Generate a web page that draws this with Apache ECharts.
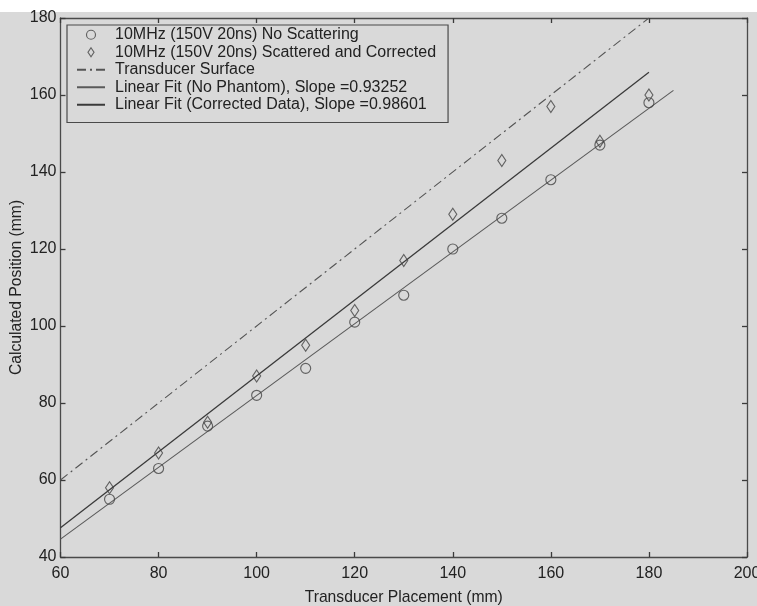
<!DOCTYPE html>
<html>
<head>
<meta charset="utf-8">
<script src="https://cdn.jsdelivr.net/npm/echarts@6/dist/echarts.min.js"></script>
<style>
  html, body { margin: 0; padding: 0; background: #d9d9d9; }
  #chart { width: 757px; height: 606px; }
</style>
</head>
<body>
<div id="chart"></div>
<script>
// Transducer placement (mm) for each measurement
const placement = [70, 80, 90, 100, 110, 120, 130, 140, 150, 160, 170, 180];
// Calculated position (mm), no scattering medium
const noScattering = [55, 63, 74, 82, 89, 101, 108, 120, 128, 138, 147, 158];
// Calculated position (mm), scattered and corrected
const scatteredCorrected = [58, 67, 75, 87, 95, 104, 117, 129, 143, 157, 148, 160];

// Transducer surface reference line (y = x)
const surfaceX = [60, 180];
const surfaceY = [60, 180];

// Linear fits
const noPhantomSlope = 0.93252;
const noPhantomIntercept = -11.32;
const noPhantomRange = [60, 185];
const correctedSlope = 0.98601;
const correctedIntercept = -11.58;
const correctedRange = [60, 180];

// Axis ticks
const xTicks = [60, 80, 100, 120, 140, 160, 180, 200];
const yTicks = [40, 60, 80, 100, 120, 140, 160, 180];

const legendNames = [
  '10MHz (150V 20ns) No Scattering',
  '10MHz (150V 20ns) Scattered and Corrected',
  'Transducer Surface',
  'Linear Fit (No Phantom), Slope =0.93252',
  'Linear Fit (Corrected Data), Slope =0.98601'
];

const pairs = (xs, ys) => xs.map((x, i) => [x, ys[i]]);
const fitLine = (range, m, b) => range.map(x => [x, m * x + b]);

const FONT = '"Liberation Sans", Arial, sans-serif';
const MARK = '#444';
const CLEAR = 'rgba(0,0,0,0)';
const hollow = { color: CLEAR, borderColor: MARK, borderWidth: 1.15 };

const axisCommon = {
  type: 'value',
  interval: 20,
  axisLine: { show: true, onZero: false, lineStyle: { color: '#4a4a4a', width: 1.3 } },
  axisTick: { show: true, inside: true, length: 5, lineStyle: { color: '#3a3a3a', width: 1.3 } },
  splitLine: { show: false },
  axisLabel: { color: '#222', fontFamily: FONT, fontSize: 16 }
};

// Legend swatches: hollow markers for the scatter sets, bare strokes for the lines
const hiddenDot = { color: CLEAR, borderColor: CLEAR, borderWidth: 0 };
const legendData = [
  { name: legendNames[0], icon: 'circle', itemStyle: hollow },
  { name: legendNames[1], icon: 'path://M4,0L8,6L4,12L0,6Z', itemStyle: hollow },
  { name: legendNames[2], itemStyle: hiddenDot },
  { name: legendNames[3], itemStyle: hiddenDot },
  { name: legendNames[4], itemStyle: hiddenDot }
];

const chart = echarts.init(document.getElementById('chart'), null, { renderer: 'canvas' });

chart.setOption({
  backgroundColor: '#d9d9d9',
  animation: false,
  graphic: [
    { type: 'rect', left: 0, top: 0, shape: { width: 757, height: 12 }, style: { fill: '#ffffff' }, silent: true }
  ],
  grid: { left: 60.5, right: 10, top: 18, bottom: 49, containLabel: false, outerBoundsMode: 'none' },
  xAxis: [
    Object.assign({}, axisCommon, {
      min: xTicks[0], max: xTicks[xTicks.length - 1],
      position: 'bottom',
      name: 'Transducer Placement (mm)',
      nameLocation: 'middle',
      nameGap: 33,
      nameTextStyle: { color: '#222', fontFamily: FONT, fontSize: 15.7 },
      axisLabel: Object.assign({}, axisCommon.axisLabel, { margin: 9 })
    }),
    Object.assign({}, axisCommon, {
      min: xTicks[0], max: xTicks[xTicks.length - 1],
      position: 'top',
      axisLabel: { show: false }
    })
  ],
  yAxis: [
    Object.assign({}, axisCommon, {
      min: yTicks[0], max: yTicks[yTicks.length - 1],
      position: 'left',
      name: 'Calculated Position (mm)',
      nameLocation: 'middle',
      nameGap: 36,
      nameMoveOverlap: false,
      nameTextStyle: { color: '#222', fontFamily: FONT, fontSize: 15.7 },
      axisLabel: Object.assign({}, axisCommon.axisLabel, { margin: 4 })
    }),
    Object.assign({}, axisCommon, {
      min: yTicks[0], max: yTicks[yTicks.length - 1],
      position: 'right',
      axisLabel: { show: false }
    })
  ],
  legend: {
    orient: 'vertical',
    left: 67,
    top: 25,
    padding: [1, 12, 9, 9],
    itemGap: 0,
    itemWidth: 28,
    itemHeight: 9,
    backgroundColor: '#d9d9d9',
    borderColor: '#4a4a4a',
    borderWidth: 1.2,
    borderRadius: 0,
    data: legendData,
    textStyle: { color: '#222', fontFamily: FONT, fontSize: 16, lineHeight: 17.5, padding: [0, 0, 0, 5] }
  },
  series: [
    {
      name: legendNames[0],
      type: 'scatter',
      data: pairs(placement, noScattering),
      symbol: 'circle',
      symbolSize: 10,
      itemStyle: hollow,
      z: 5
    },
    {
      name: legendNames[1],
      type: 'scatter',
      data: pairs(placement, scatteredCorrected),
      symbol: 'diamond',
      symbolSize: [8, 12],
      itemStyle: hollow,
      z: 5
    },
    {
      name: legendNames[2],
      type: 'line',
      data: pairs(surfaceX, surfaceY),
      symbol: 'none',
      lineStyle: { color: '#555', width: 1.1, type: [9, 4, 2, 4] },
      itemStyle: { color: '#555' }
    },
    {
      name: legendNames[3],
      type: 'line',
      data: fitLine(noPhantomRange, noPhantomSlope, noPhantomIntercept),
      symbol: 'none',
      lineStyle: { color: '#5a5a5a', width: 1.1 },
      itemStyle: { color: '#5a5a5a' }
    },
    {
      name: legendNames[4],
      type: 'line',
      data: fitLine(correctedRange, correctedSlope, correctedIntercept),
      symbol: 'none',
      lineStyle: { color: '#3a3a3a', width: 1.3 },
      itemStyle: { color: '#3a3a3a' }
    }
  ]
});
</script>
</body>
</html>
